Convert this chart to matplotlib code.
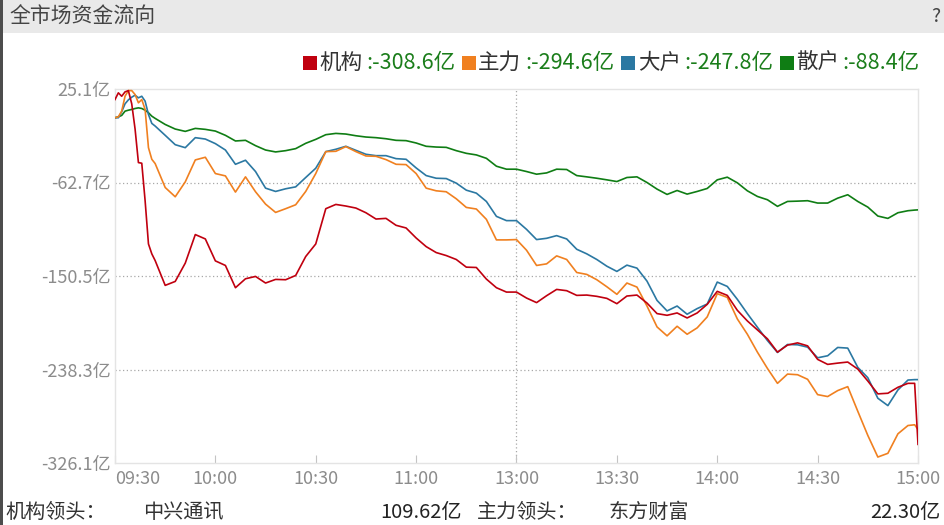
import matplotlib
matplotlib.use('Agg')
import matplotlib.pyplot as plt
from matplotlib.patches import Rectangle

plt.rcParams['font.family'] = ['Noto Sans CJK SC', 'DejaVu Sans']

# ---------------- data ----------------
minutes = list(range(0, 13)) + list(range(15, 238, 3)) + [239, 240]

jigou = [15.2, 21.5, 18.3, 22.4, 23.6, 11.2, -12.5, -44.0, -44.6, -79.8, -120.4, -129.7, -136.0,
         -159.3, -155.6, -138.4, -111.6, -115.7, -136.3, -140.6, -161.5, -153.1, -150.9, -157.1, -153.7,
         -154.0, -150.0, -132.2, -120.4,
         -87.3, -83.3, -84.8, -86.7, -91.1, -97.0, -96.4, -102.9, -105.4, -114.8, -122.9, -128.5,
         -131.3, -135.0, -142.2, -142.5, -153.4, -161.5, -165.6, -165.6,
         -171.2, -175.5, -169.0, -163.1, -164.3, -168.7, -168.4, -169.6, -171.5, -176.5, -169.3, -168.4,
         -175.9, -185.8, -187.4, -185.2, -189.9, -185.2, -177.1, -164.9,
         -168.7, -182.7, -192.7, -201.1, -209.5, -222.0, -215.4, -213.3, -216.1, -228.8, -233.5, -232.3,
         -231.3, -237.9, -249.1, -261.2, -260.6, -255.0, -251.3,
         -251.3, -308.6]

zhuli = [-1.9, -1.0, 4.3, 18.3, 23.6, 23.6, 19.9, 12.1, 15.2, 5.9, -30.0, -40.9, -44.9,
         -67.4, -76.1, -62.1, -41.5, -39.0, -54.3, -56.5, -71.7, -57.4, -71.4, -83.0, -90.8,
         -87.3, -83.6, -71.1, -54.3,
         -33.7, -33.4, -29.0, -33.7, -37.8, -38.1, -41.2, -45.6, -45.9, -54.3, -68.0, -70.5,
         -71.4, -78.0, -86.1, -87.6, -97.3, -116.6, -116.6, -116.3,
         -126.3, -140.6, -139.1, -131.6, -135.0, -147.2, -149.0, -154.0, -160.6, -167.7, -157.1, -160.9,
         -178.7, -198.3, -206.7, -197.7, -205.2, -199.2, -188.9, -167.1,
         -170.6, -190.8, -205.2, -222.0, -237.3, -251.3, -242.6, -243.2, -247.5, -261.9, -263.7, -258.1,
         -254.4, -277.5, -300.2, -320.5, -317.0, -298.7, -290.9,
         -290.2, -294.6]

dahu = [-1.9, -1.9, 3.7, 11.2, 14.9, 17.4, 19.3, 16.8, 18.3, 13.7, 1.2, -7.2, -9.7,
        -18.4, -27.2, -30.0, -20.6, -21.9, -26.2, -32.2, -45.6, -41.8, -52.4, -68.0, -71.1,
        -68.6, -66.8, -58.0, -49.3,
        -33.7, -31.5, -28.7, -32.5, -36.2, -37.5, -37.5, -40.3, -40.9, -49.0, -56.2, -58.7,
        -59.0, -63.3, -69.9, -72.7, -80.5, -94.5, -98.5, -98.5,
        -106.7, -116.3, -115.1, -112.6, -115.7, -125.4, -129.7, -135.0, -141.3, -146.2, -140.3, -143.1,
        -155.3, -173.4, -183.3, -178.7, -186.4, -181.1, -176.8, -156.2,
        -160.3, -172.4, -185.8, -198.6, -211.1, -222.3, -214.8, -215.1, -217.3, -227.3, -225.4, -217.6,
        -218.2, -236.3, -246.0, -265.3, -272.2, -257.5, -248.2,
        -247.8, -247.8]

sanhu = [-1.9, -1.0, 0.3, 4.3, 5.2, 5.9, 6.8, 7.4, 6.8, 5.2, 2.8, -0.4, -2.5,
         -8.2, -12.5, -14.7, -11.9, -12.8, -14.4, -18.4, -23.7, -23.1, -28.1, -32.2, -34.0,
         -32.8, -30.9, -25.9, -22.2,
         -17.8, -16.6, -17.2, -18.8, -20.0, -20.6, -21.6, -23.1, -23.4, -25.6, -28.7, -29.4,
         -29.7, -32.8, -35.3, -36.8, -40.0, -47.4, -50.2, -50.2,
         -52.4, -54.9, -53.7, -50.2, -50.5, -56.2, -57.4, -58.7, -60.2, -61.8, -58.0, -57.4,
         -62.7, -68.9, -73.9, -70.2, -73.6, -71.1, -68.3, -60.2,
         -57.7, -63.0, -70.5, -75.8, -78.9, -85.1, -80.5, -80.2, -79.8, -82.0, -82.0, -77.4,
         -74.2, -80.5, -85.8, -94.2, -96.4, -91.1, -89.2,
         -88.6, -88.4]

series_names = ['机构', '主力', '大户', '散户']
final_values = [':-308.6亿', ':-294.6亿', ':-247.8亿', ':-88.4亿']
colors = ['#c0000f', '#f08020', '#2b78a2', '#0f7d14']

y_ticks = [25.1, -62.7, -150.5, -238.3, -326.1]
y_tick_labels = ['25.1亿', '-62.7亿', '-150.5亿', '-238.3亿', '-326.1亿']
x_ticks = [0, 30, 60, 90, 120, 150, 180, 210, 240]
x_tick_labels = ['09:30', '10:00', '10:30', '11:00', '13:00', '13:30', '14:00', '14:30', '15:00']

leader_titles = ['机构领头：', '主力领头：']
leader_names = ['中兴通讯', '东方财富']
leader_values = ['109.62亿', '22.30亿']

# ---------------- figure ----------------
W, H = 945, 525
fig = plt.figure(figsize=(W / 100, H / 100), dpi=100)
fig.patch.set_facecolor('white')


def fx(px):
    return px / W


def fy(py):
    return 1 - py / H


# title bar
fig.add_artist(Rectangle((0, fy(33)), 1, 33 / H, transform=fig.transFigure,
                         facecolor='#e9e9e9', edgecolor='none', zorder=0))
fig.add_artist(Rectangle((0, 0), fx(3), 1, transform=fig.transFigure,
                         facecolor='#4d4d4d', edgecolor='none', zorder=5))
fig.text(fx(9), fy(17), '全市场资金流向', fontsize=15, color='#444444', va='center', ha='left')
fig.text(fx(936), fy(17), '?', fontsize=14, color='#444444', va='center', ha='center')

ax = fig.add_axes([fx(115), fy(463), fx(918) - fx(115), fy(89) - fy(463)])
ax.set_xlim(0, 240)
ax.set_ylim(-326.1, 25.1)

for yv in y_ticks[1:-1]:
    ax.axhline(yv, color='#a8a8a8', lw=0.9, ls=(0, (1, 2)), zorder=1)
ax.axvline(120, color='#a8a8a8', lw=0.9, ls=(0, (1, 2)), zorder=1)

all_series = [jigou, zhuli, dahu, sanhu]
for idx in [3, 2, 1, 0]:
    ax.plot(minutes, all_series[idx], color=colors[idx], lw=1.2, zorder=3,
            solid_joinstyle='round')

for sp in ax.spines.values():
    sp.set_color('#e4e4e4')
    sp.set_linewidth(1.0)

ax.set_yticks(y_ticks)
ax.set_yticklabels(y_tick_labels)
ax.set_xticks(x_ticks)
ax.set_xticklabels(x_tick_labels)
ax.tick_params(axis='y', length=0, pad=3, labelsize=13, labelcolor='#8c8c8c')
ax.tick_params(axis='x', direction='in', length=6, color='#c4c4c4', pad=5,
               labelsize=13, labelcolor='#8c8c8c')
ax.get_xticklabels()[0].set_ha('left')

# legend
sq_x = [303, 462, 621, 780]
name_x = [319, 478, 638, 796]
val_x = [366, 525, 684, 842]
for i in range(4):
    fig.add_artist(Rectangle((fx(sq_x[i]), fy(70)), 14 / W, 14 / H, transform=fig.transFigure,
                             facecolor=colors[i], edgecolor='none'))
    fig.text(fx(name_x[i]), fy(63), series_names[i], fontsize=15.5, color='#333333',
             va='center', ha='left')
    fig.text(fx(val_x[i]), fy(63), final_values[i], fontsize=15.5, color='#1a7d1a',
             va='center', ha='left')

# bottom row
fig.text(fx(5), fy(512), leader_titles[0], fontsize=14.5, color='#333333', va='center', ha='left')
fig.text(fx(143), fy(512), leader_names[0], fontsize=14.5, color='#333333', va='center', ha='left')
fig.text(fx(462), fy(512), leader_values[0], fontsize=14.5, color='#222222', va='center', ha='right')
fig.text(fx(477), fy(512), leader_titles[1], fontsize=14.5, color='#333333', va='center', ha='left')
fig.text(fx(609), fy(512), leader_names[1], fontsize=14.5, color='#333333', va='center', ha='left')
fig.text(fx(940), fy(512), leader_values[1], fontsize=14.5, color='#222222', va='center', ha='right')

fig.savefig('out.png', dpi=100, facecolor='white')
